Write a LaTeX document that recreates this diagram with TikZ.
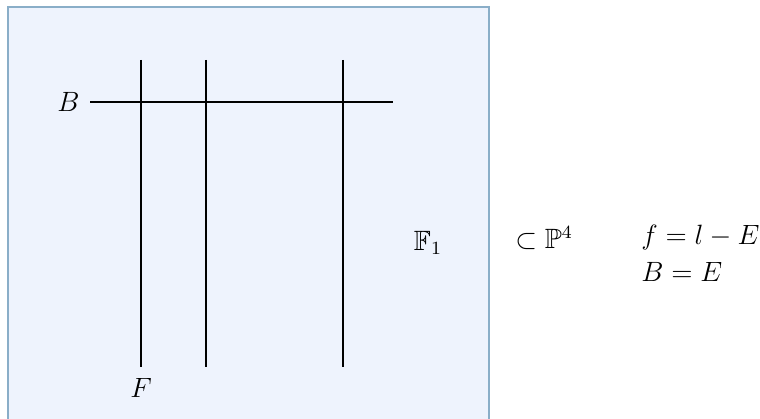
\documentclass[tikz,border=0pt]{standalone}
\usepackage{amssymb}
\usepackage{tikz}
\usetikzlibrary{positioning,calc}
\definecolor{panelfill}{HTML}{EEF3FD}
\definecolor{paneledge}{HTML}{8AAEC8}
\begin{document}
\begin{tikzpicture}[
		x=0.43pt, y=-0.43pt,
		curve/.style={line width=1.25pt, black},
		lbl/.style={inner sep=0pt, font=\large}
		]
		\useasboundingbox (0,0) rectangle (760,419);
		
		% panel
		\fill[panelfill] (8,7) rectangle (489,430);
		\draw[paneledge, line width=0.6pt] (8,430) -- (8,7) -- (489,7) -- (489,430);
		
		% end points of the curves
		\coordinate (bl) at (90,102);
		\coordinate (br) at (393,102);
		\coordinate (f1t) at (141,60);
		\coordinate (f1b) at (141,367);
		\coordinate (f2t) at (206,60);
		\coordinate (f2b) at (206,367);
		\coordinate (f3t) at (343,60);
		\coordinate (f3b) at (343,367);
		
		% curves
		\draw[curve] (bl) -- (br);
		\draw[curve] (f1t) -- (f1b);
		\draw[curve] (f2t) -- (f2b);
		\draw[curve] (f3t) -- (f3b);
		
		% labels
		\node[lbl, left=10pt*0.43 of bl] (blabel) {$B$};
		\node[lbl] (flabel) at (141,388) {$F$};
		\node[lbl] (surf) at (428,243) {$\mathbb{F}_1$};
		\node[lbl, anchor=west] (amb) at (515,238) {$\subset\mathbb{P}^4$};
		\node[lbl, anchor=west] (rel1) at (641,238) {$f = l - E$};
		\node[lbl, anchor=west] (rel2) at (641,272) {$B = E$};
\end{tikzpicture}
\end{document}
